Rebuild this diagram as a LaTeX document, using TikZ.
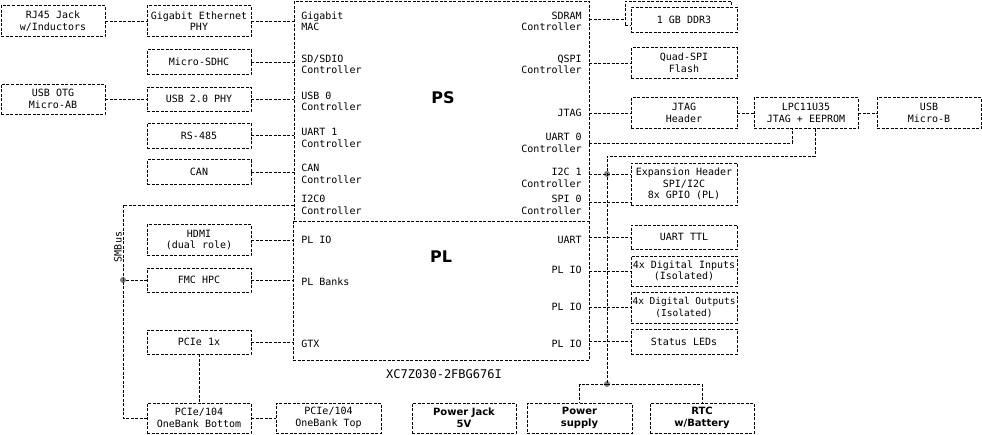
\documentclass[tikz,border=0pt]{standalone}
\usepackage{fontspec}
\setmonofont{DejaVu Sans Mono}
\setsansfont{DejaVu Sans}
\begin{document}
\begin{tikzpicture}[x=1pt, y=-1pt, line width=0.7pt, dash pattern=on 3pt off 1.5pt,
  font=\ttfamily\fontsize{10}{11.5}\selectfont,
  blk/.style={draw, fill=white, align=center, inner sep=1pt, minimum width=104pt, minimum height=31pt},
  bld/.style={blk, font=\sffamily\bfseries\fontsize{10}{12}\selectfont},
  lbl/.style={align=left, inner sep=0pt, anchor=west},
  rlbl/.style={align=right, inner sep=0pt, anchor=east},
  ttl/.style={font=\sffamily\bfseries\fontsize{16}{18}\selectfont},
  dot/.style={circle, fill=gray, inner sep=0pt, minimum size=6pt}]
\useasboundingbox (0,0) rectangle (982,434);
\node[draw, minimum width=295pt, minimum height=220pt] (ps) at (441.5,111){};
\node[minimum width=295pt, minimum height=139pt] (pl) at (441.5,290.5){};
\draw (pl.north west) |- (pl.south east) -- (pl.north east);
\node[ttl] (pst) at (443,98){PS};
\node[ttl] (plt) at (441,257){PL};
\node[font=\ttfamily\fontsize{12}{14}\selectfont] (chip) at (444,374){XC7Z030-2FBG676I};
\node[lbl] (gmac) at (301,21.5){Gigabit\\MAC};
\node[lbl] (sdio) at (301,64.5){SD/SDIO\\Controller};
\node[lbl] (usb0) at (301,101.5){USB 0\\Controller};
\node[lbl] (uart1) at (301,138){UART 1\\Controller};
\node[lbl] (canc) at (301,174){CAN\\Controller};
\node[lbl] (i2c0) at (301,205){I2C0\\Controller};
\node[lbl] (plio0) at (301,240){PL IO};
\node[lbl] (plbanks) at (301,282){PL Banks};
\node[lbl] (gtx) at (301,344){GTX};
\node[rlbl] (sdram) at (582,21.5){SDRAM\\Controller};
\node[rlbl] (qspi) at (582,64.5){QSPI\\Controller};
\node[rlbl] (jtag) at (582,113){JTAG};
\node[rlbl] (uart0) at (582,143){UART 0\\Controller};
\node[rlbl] (i2c1) at (582,178){I2C 1\\Controller};
\node[rlbl] (spi0) at (582,205){SPI 0\\Controller};
\node[rlbl] (uart) at (582,240){UART};
\node[rlbl] (plio1) at (582,270){PL IO};
\node[rlbl] (plio2) at (582,307){PL IO};
\node[rlbl] (plio3) at (582,344){PL IO};
\node[blk] (rj45) at (53,21){RJ45 Jack\\w/Inductors};
\node[blk, minimum height=30pt] (usbotg) at (53,99){USB OTG\\Micro-AB};
\node[blk] (gephy) at (199,21){Gigabit Ethernet\\PHY};
\node[blk, minimum height=25pt] (sdhc) at (199,62){Micro-SDHC};
\node[blk, minimum height=24pt] (usbphy) at (199,99){USB 2.0 PHY};
\node[blk, minimum height=25pt] (rs485) at (199,135.5){RS-485};
\node[blk, minimum height=25pt] (can) at (199,172){CAN};
\node[blk] (hdmi) at (199,240){HDMI\\(dual role)};
\node[blk, minimum height=24pt] (fmc) at (199,280){FMC HPC};
\node[blk, minimum height=24pt] (pcie) at (199,342){PCIe 1x};
\node[blk, minimum height=30pt] (pcieb) at (199,418){PCIe/104\\OneBank Bottom};
\node[blk, minimum height=30pt, minimum width=105pt] (pciet) at (328.5,418){PCIe/104\\OneBank Top};
\node[bld, minimum height=30pt] (pjack) at (464,418){Power Jack\\5V};
\node[bld, minimum height=30pt, minimum width=105pt] (psu) at (579.5,418){Power\\supply};
\node[bld, minimum height=30pt] (rtc) at (702,418){RTC\\w/Battery};
\node[blk, minimum width=106pt, minimum height=24pt] (ddrb) at (678,13){};
\node[blk, minimum width=106pt, minimum height=25pt] (ddr) at (684,19.5){1 GB DDR3};
\node[blk, minimum width=106pt] (qspif) at (684,63){Quad-SPI\\Flash};
\node[blk, minimum width=106pt] (jtagh) at (684,113){JTAG\\Header};
\node[blk] (lpc) at (806,113){LPC11U35\\JTAG + EEPROM};
\node[blk] (usbmb) at (929,113){USB\\Micro-B};
\node[blk, minimum width=106pt, minimum height=42pt] (exp) at (684,184){Expansion Header\\SPI/I2C\\8x GPIO (PL)};
\node[blk, minimum width=106pt, minimum height=24pt] (uartttl) at (684,237){UART TTL};
\node[blk, minimum width=106pt, minimum height=30pt] (din) at (684,271){4x Digital Inputs\\(Isolated)};
\node[blk, minimum width=106pt, minimum height=31pt, font=\ttfamily\fontsize{9.5}{11.5}\selectfont] (dout) at (684,307.5){4x Digital Outputs\\(Isolated)};
\node[blk, minimum width=106pt, minimum height=25pt] (leds) at (684,341.5){Status LEDs};
\node[dot] (smb) at (123,280){};
\node[dot] (i2cd) at (607,174){};
\node[dot] (pwr) at (607,384){};
\node[rotate=90, anchor=south, inner sep=1pt] (smbl) at (123,247){SMBus};
\coordinate (bus) at (607,156);
\coordinate (lpcu) at ([xshift=-14pt]lpc.south);
\coordinate (lpci) at ([xshift=9pt]lpc.south);
\coordinate (spic) at ([yshift=-18pt]exp.west);
\draw (rj45) -- (gephy);
\draw (gephy) -- (gephy -| ps.west);
\draw (sdhc) -- (sdhc -| ps.west);
\draw (usbotg) -- (usbphy);
\draw (usbphy) -- (usbphy -| ps.west);
\draw (rs485) -- (rs485 -| ps.west);
\draw (can) -- (can -| ps.west);
\draw (i2c0 -| ps.west) -| (smb.center) |- (pcieb);
\draw (smb) -- (fmc);
\draw (hdmi) -- (hdmi -| pl.west);
\draw (fmc) -- (fmc -| pl.west);
\draw (pcie) -- (pcie -| pl.west);
\draw (pcie) -- (pcieb);
\draw (pcieb) -- (pciet);
\draw (ddr -| ps.east) -- (ddr -| ddrb.west);
\draw (qspif -| ps.east) -- (qspif);
\draw (jtagh -| ps.east) -- (jtagh);
\draw (jtagh) -- (lpc);
\draw (lpc) -- (usbmb);
\draw (uart0 -| ps.east) -| (lpcu);
\draw (lpci) |- (bus) -- (pwr.center);
\draw (i2cd -| ps.east) -- (i2cd -| exp.west);
\draw (spic -| ps.east) -- (spic);
\draw (uartttl -| pl.east) -- (uartttl);
\draw (din -| pl.east) -- (din);
\draw (dout -| pl.east) -- (dout);
\draw (leds -| pl.east) -- (leds);
\draw (pwr.center) -| (psu);
\draw (pwr.center) -| (rtc);
\end{tikzpicture}
\end{document}
